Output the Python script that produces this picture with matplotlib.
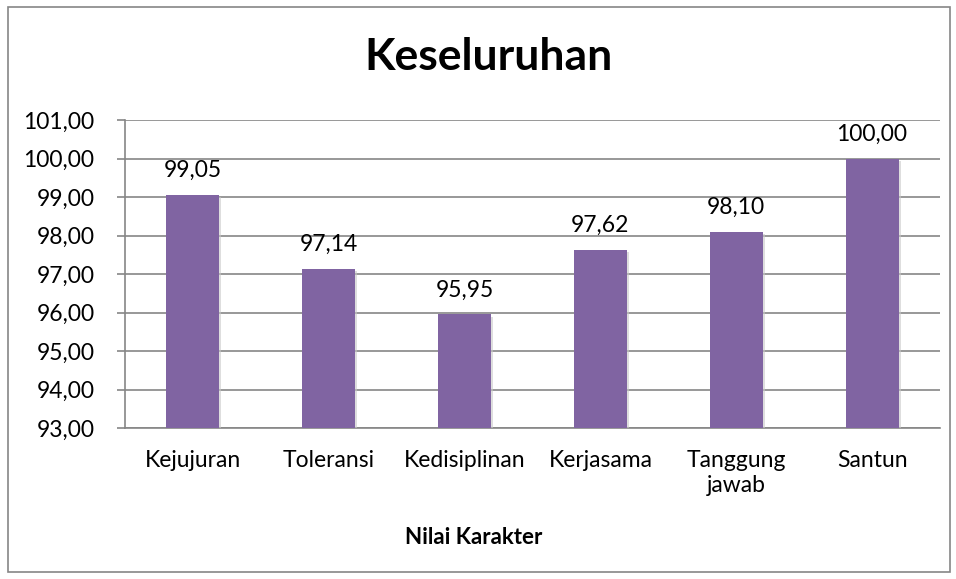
import matplotlib.pyplot as plt
import matplotlib.patheffects as pe
from matplotlib.patches import Rectangle

categories = ["Kejujuran", "Toleransi", "Kedisiplinan", "Kerjasama", "Tanggung\njawab", "Santun"]
values = [99.05, 97.14, 95.95, 97.62, 98.10, 100.00]
yticks = [93, 94, 95, 96, 97, 98, 99, 100, 101]

plt.rcParams['font.family'] = ['Lato', 'DejaVu Sans']

fig = plt.figure(figsize=(9.56, 5.79), dpi=100)
# outer chart border
fig.patches.append(Rectangle((8 / 956, 7 / 579), 942 / 956, 565 / 579, transform=fig.transFigure,
                             fill=False, edgecolor='#868686', linewidth=1.2))

ax = fig.add_axes([125 / 956, 1 - 428 / 579, 815 / 956, 308 / 579])
x = range(len(categories))
ax.bar(x, values, width=0.39, color='#8064A2', zorder=3,
       path_effects=[pe.SimplePatchShadow(offset=(1.5, -1.5), shadow_rgbFace='#c8c8c8', alpha=0.6),
                     pe.Normal()])
ax.set_ylim(93, 101)
ax.set_xlim(-0.5, len(categories) - 0.5)
ax.set_yticks(yticks)
ax.set_yticklabels([("%.2f" % v).replace('.', ',') for v in yticks])
ax.set_xticks(list(x))
ax.set_xticklabels(categories, fontsize=16.5, linespacing=1.25)
ax.tick_params(axis='y', labelsize=16.5, length=6, color='#868686', width=1.2, pad=16)
ax.tick_params(axis='x', length=0, pad=16)
ax.grid(axis='y', color='#868686', linewidth=1.2, zorder=0)
for side in ['top', 'right']:
    ax.spines[side].set_visible(False)
for side in ['left', 'bottom']:
    ax.spines[side].set_color('#868686')
    ax.spines[side].set_linewidth(1.2)

for xi, v in zip(x, values):
    ax.annotate(("%.2f" % v).replace('.', ','), (xi, v), xytext=(0, 10), textcoords='offset points',
                ha='center', va='bottom', fontsize=16.5)

fig.text(488 / 956, 1 - 57 / 579, "Keseluruhan", ha='center', va='center', fontsize=32, fontweight='bold')
fig.text(474 / 956, 1 - 537 / 579, "Nilai Karakter", ha='center', va='center', fontsize=16, fontweight='bold')

fig.savefig("out.png", dpi=100)
